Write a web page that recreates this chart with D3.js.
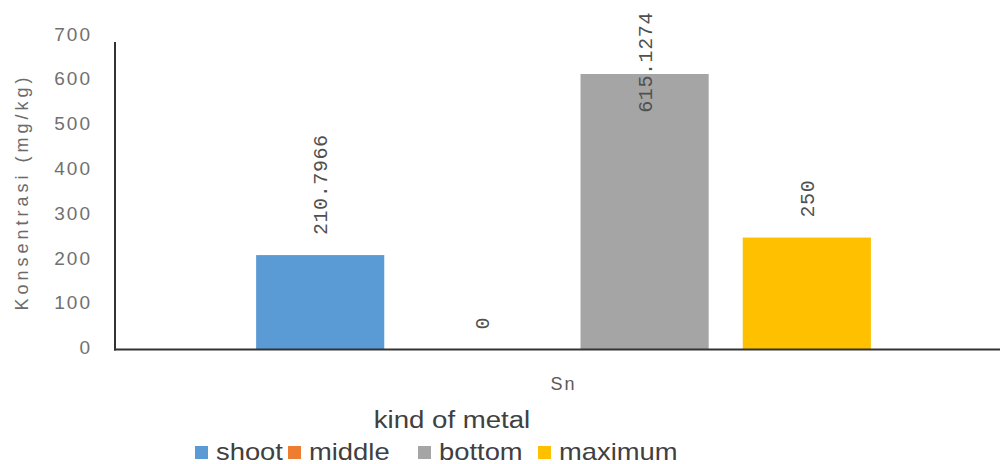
<!DOCTYPE html>
<html>
<head>
<meta charset="utf-8">
<script src="https://cdn.jsdelivr.net/npm/d3@7"></script>
<style>
  html, body { margin: 0; padding: 0; background: #fff; }
  svg { display: block; }
</style>
</head>
<body>
<svg id="chart" width="1000" height="464"></svg>
<script>
// Concentration of Sn per sampling part
const categories = ["Sn"];
const seriesNames = ["shoot", "middle", "bottom", "maximum"];
const seriesValues = [210.7966, 0, 615.1274, 250];
const valueLabels = ["210.7966", "0", "615.1274", "250"];
const seriesColors = ["#5b9bd5", "#ed7d31", "#a5a5a5", "#ffc000"];
const yTicks = [0, 100, 200, 300, 400, 500, 600, 700];
const yTitle = "Konsentrasi (mg/kg)";
const xTitle = "kind of metal";

const svg = d3.select("#chart");

const plot = { left: 115, right: 1012, top: 36, bottom: 349.5 };

const y = d3.scaleLinear().domain([0, 700]).range([plot.bottom, plot.top]);
const x0 = d3.scaleBand().domain(categories).range([plot.left, plot.right]).padding(0);
const x1 = d3.scaleBand().domain(seriesNames).range([0, x0.bandwidth()])
  .paddingInner(0.21).paddingOuter(0.87);

// bars
const bars = svg.append("g");
categories.forEach(cat => {
  bars.selectAll("rect.bar")
    .data(seriesNames.map((s, i) => ({ s, v: seriesValues[i], c: seriesColors[i] })))
    .join("rect")
    .attr("class", "bar")
    .attr("x", d => x0(cat) + x1(d.s))
    .attr("width", x1.bandwidth())
    .attr("y", d => y(d.v))
    .attr("height", d => y(0) - y(d.v))
    .attr("fill", d => d.c);
});

// y axis tick labels
const yAxis = d3.axisLeft(y).tickValues(yTicks).tickSize(0).tickPadding(0);
const gy = svg.append("g").attr("transform", "translate(92,-2)").call(yAxis);
gy.select(".domain").remove();
gy.selectAll("text")
  .attr("font-family", "Liberation Sans, Arial, sans-serif")
  .attr("font-size", 19)
  .attr("letter-spacing", "2px")
  .attr("fill", "#707070");

// x axis category label
const xAxis = d3.axisBottom(x0).tickSize(0).tickPadding(0);
const gx = svg.append("g").attr("transform", "translate(0,377)").call(xAxis);
gx.select(".domain").remove();
gx.selectAll("text")
  .attr("font-family", "Liberation Sans, Arial, sans-serif")
  .attr("font-size", 18)
  .attr("letter-spacing", "2px")
  .attr("fill", "#595959");

// axis lines
svg.append("line")
  .attr("x1", plot.left).attr("x2", plot.left)
  .attr("y1", 42).attr("y2", y(0) + 1)
  .attr("stroke", "#333").attr("stroke-width", 2);
svg.append("line")
  .attr("x1", plot.left - 1).attr("x2", 1000)
  .attr("y1", y(0)).attr("y2", y(0))
  .attr("stroke", "#333").attr("stroke-width", 2);

// rotated value labels above each bar (kept inside the chart area)
const labels = svg.append("g");
seriesNames.forEach((s, i) => {
  const cx = x0(categories[0]) + x1(s) + x1.bandwidth() / 2;
  const t = labels.append("text")
    .attr("font-family", "Liberation Mono, DejaVu Sans Mono, monospace")
    .attr("font-size", 20)
    .attr("letter-spacing", "0.6px")
    .attr("fill", "#505050")
    .attr("dy", "0.35em")
    .text(valueLabels[i]);
  const len = t.node().getComputedTextLength();
  const start = Math.max(y(seriesValues[i]) - 20, 12 + len);
  t.attr("transform", `translate(${cx},${start}) rotate(-90)`);
});

// y axis title
svg.append("text")
  .attr("transform", "translate(28,192) rotate(-90)")
  .attr("text-anchor", "middle")
  .attr("font-family", "Liberation Sans, Arial, sans-serif")
  .attr("font-size", 18)
  .attr("letter-spacing", "4px")
  .attr("fill", "#6b6b6b")
  .text(yTitle);

// x axis title
const xt = svg.append("text")
  .attr("x", 452).attr("y", 428)
  .attr("text-anchor", "middle")
  .attr("font-family", "Liberation Sans, Arial, sans-serif")
  .attr("font-size", 23)
  .attr("fill", "#404040")
  .text(xTitle);
xt.attr("textLength", xt.node().getComputedTextLength() * 1.2)
  .attr("lengthAdjust", "spacingAndGlyphs");

// legend
const legendX = [195, 288, 418, 538];
const legend = svg.append("g");
seriesNames.forEach((s, i) => {
  legend.append("rect")
    .attr("x", legendX[i]).attr("y", 446)
    .attr("width", 13).attr("height", 13)
    .attr("fill", seriesColors[i]);
  const lt = legend.append("text")
    .attr("x", legendX[i] + 21).attr("y", 460)
    .attr("font-family", "Liberation Sans, Arial, sans-serif")
    .attr("font-size", 24)
    .attr("fill", "#404040")
    .text(s);
  lt.attr("textLength", lt.node().getComputedTextLength() * 1.14)
    .attr("lengthAdjust", "spacingAndGlyphs");
});
</script>
</body>
</html>
